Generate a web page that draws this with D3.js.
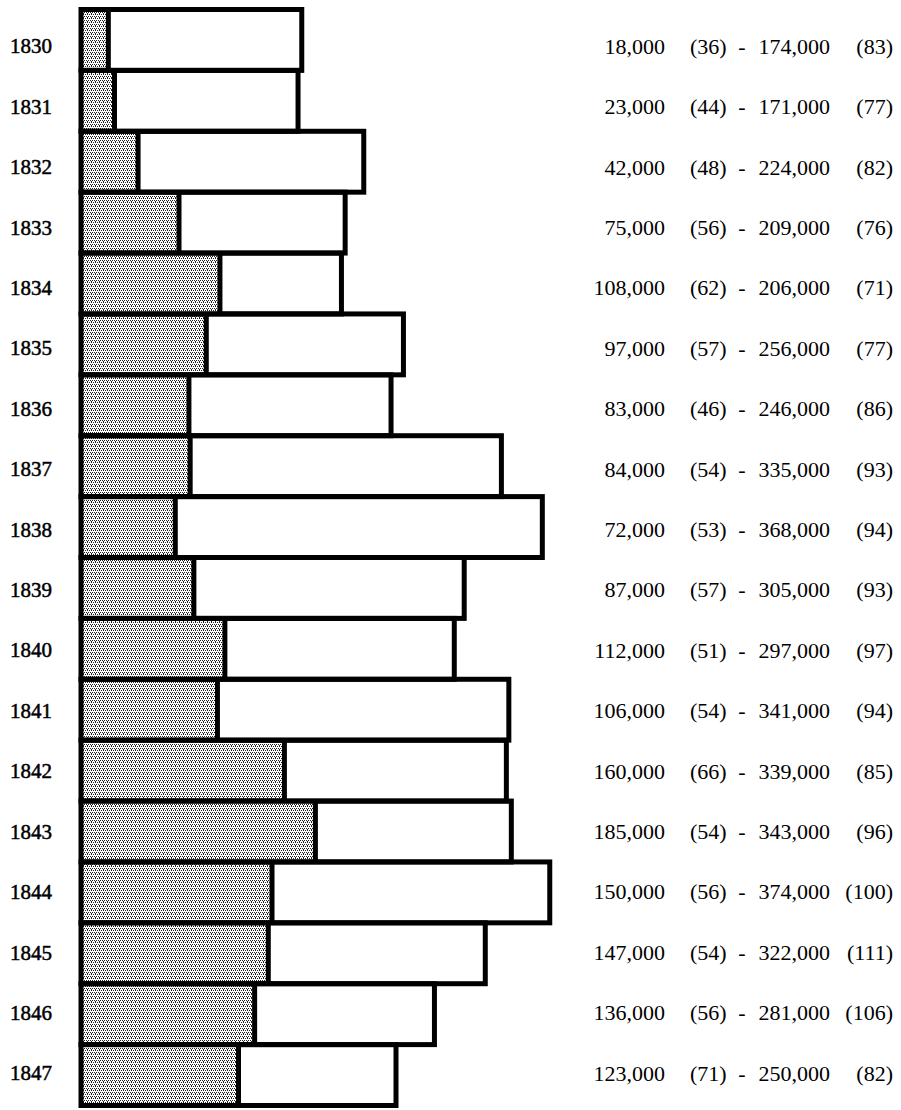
<!DOCTYPE html>
<html>
<head>
<meta charset="utf-8">
<script src="https://cdn.jsdelivr.net/npm/d3@7"></script>
<style>
  body { margin: 0; background: #fff; }
</style>
</head>
<body>
<div id="chart-area"></div>
<script>
/*
*    main.js
*/
var years = ["1830", "1831", "1832", "1833", "1834", "1835", "1836", "1837", "1838",
  "1839", "1840", "1841", "1842", "1843", "1844", "1845", "1846", "1847"];
var firstValues = [18000, 23000, 42000, 75000, 108000, 97000, 83000, 84000, 72000,
  87000, 112000, 106000, 160000, 185000, 150000, 147000, 136000, 123000];
var firstRanks = [36, 44, 48, 56, 62, 57, 46, 54, 53, 57, 51, 54, 66, 54, 56, 54, 56, 71];
var totalValues = [174000, 171000, 224000, 209000, 206000, 256000, 246000, 335000, 368000,
  305000, 297000, 341000, 339000, 343000, 374000, 322000, 281000, 250000];
var totalRanks = [83, 77, 82, 76, 71, 77, 86, 93, 94, 93, 97, 94, 85, 96, 100, 111, 106, 82];

var data = years.map((y, i) => ({
  year: y,
  first: firstValues[i],
  firstRank: firstRanks[i],
  total: totalValues[i],
  totalRank: totalRanks[i]
}));

var width = 901;
var height = 1110;
var stroke = 5;

var svg = d3.select("#chart-area")
  .append("svg")
  .attr("width", width)
  .attr("height", height)
  .style("display", "block")
  .style("background", "#fff");

// stippled fill for the first part of each bar
var pattern = svg.append("defs").append("pattern")
  .attr("id", "stipple")
  .attr("width", 4)
  .attr("height", 4)
  .attr("patternUnits", "userSpaceOnUse");
pattern.append("rect")
  .attr("width", 4)
  .attr("height", 4)
  .attr("fill", "#fff");
[[0, 0], [2, 0], [1, 2], [3, 2], [3, 1]].forEach(p => {
  pattern.append("rect")
    .attr("x", p[0])
    .attr("y", p[1])
    .attr("width", 1)
    .attr("height", 1)
    .attr("fill", "#222");
});

var x = d3.scaleLinear()
  .domain([0, 374000])
  .range([86, 86 + 374 * 1.24]);

var y = d3.scaleBand()
  .domain(years)
  .range([7 + stroke / 2, 1108 - stroke / 2])
  .padding(0);

var yLabel = d3.scalePoint()
  .domain(years)
  .range([46, 1073]);

var left = x(0) - stroke;
var g = svg.append("g");

// white full bars
g.selectAll(".bar")
  .data(data)
  .enter().append("rect")
  .attr("class", "bar")
  .attr("x", left)
  .attr("y", d => y(d.year))
  .attr("width", d => x(d.total) - left)
  .attr("height", y.bandwidth())
  .attr("fill", "#fff");

// stippled part
g.selectAll(".part")
  .data(data)
  .enter().append("rect")
  .attr("class", "part")
  .attr("x", left)
  .attr("y", d => y(d.year))
  .attr("width", d => x(d.first) - left)
  .attr("height", y.bandwidth())
  .attr("fill", "url(#stipple)")
  .attr("shape-rendering", "crispEdges");

// outlines
g.selectAll(".outline")
  .data(data)
  .enter().append("rect")
  .attr("class", "outline")
  .attr("x", left)
  .attr("y", d => y(d.year))
  .attr("width", d => x(d.total) - left)
  .attr("height", y.bandwidth())
  .attr("fill", "none")
  .attr("stroke", "#000")
  .attr("stroke-width", stroke);

// dividers
g.selectAll(".divider")
  .data(data)
  .enter().append("line")
  .attr("class", "divider")
  .attr("x1", d => x(d.first))
  .attr("x2", d => x(d.first))
  .attr("y1", d => y(d.year))
  .attr("y2", d => y(d.year) + y.bandwidth())
  .attr("stroke", "#000")
  .attr("stroke-width", stroke);

var font = "'Liberation Serif', 'Times New Roman', serif";

svg.selectAll(".year")
  .data(data)
  .enter().append("text")
  .attr("class", "year")
  .attr("x", 52)
  .attr("y", d => yLabel(d.year))
  .attr("dy", "0.35em")
  .attr("text-anchor", "end")
  .style("font-family", font)
  .style("font-size", "21px")
  .style("stroke", "#000")
  .style("stroke-width", 0.5)
  .text(d => d.year);

var fmt = d3.format(",");
var cols = [
  { x: 665, anchor: "end", text: d => fmt(d.first) },
  { x: 690, anchor: "start", text: d => "(" + d.firstRank + ")" },
  { x: 742, anchor: "middle", text: d => "-" },
  { x: 830, anchor: "end", text: d => fmt(d.total) },
  { x: 893, anchor: "end", text: d => "(" + d.totalRank + ")" }
];

cols.forEach(c => {
  svg.selectAll(null)
    .data(data)
    .enter().append("text")
    .attr("x", c.x)
    .attr("y", d => yLabel(d.year))
    .attr("dy", "0.35em")
    .attr("text-anchor", c.anchor)
    .style("font-family", font)
    .style("font-size", "22px")
    .text(c.text);
});
</script>
</body>
</html>
